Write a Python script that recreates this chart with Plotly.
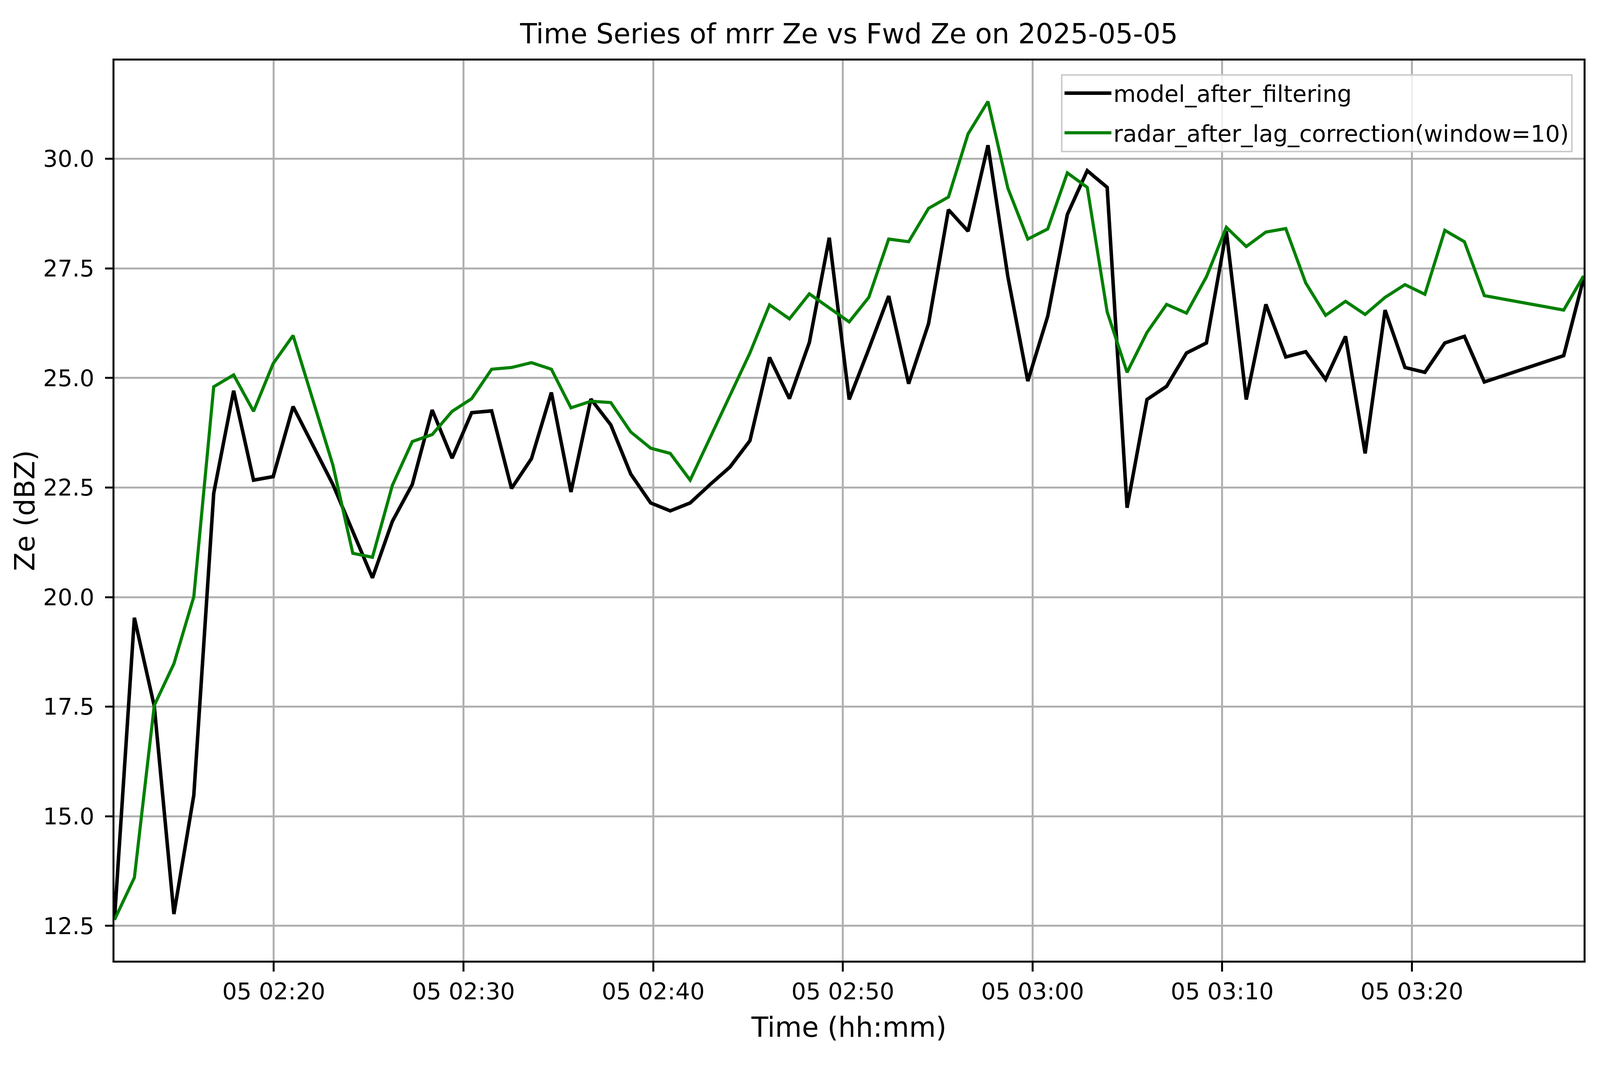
"""Time series of mrr Ze against forward-model Ze for 2025-05-05."""

# imports
from plotly.graph_objects import Figure, Scatter

DAY = "2025-05-05"

# sample times (hh:mm:ss), gaps are simply missing samples
times = [
    "02:11:36", "02:12:39", "02:13:42", "02:14:44", "02:15:47", "02:16:50", "02:17:53", "02:18:56",
    "02:19:58", "02:21:01",
    "02:23:07", "02:24:10", "02:25:12", "02:26:15", "02:27:18", "02:28:21", "02:29:24", "02:30:26",
    "02:31:29",
    "02:32:32", "02:33:35", "02:34:38", "02:35:40", "02:36:43", "02:37:46", "02:38:49", "02:39:52",
    "02:40:54", "02:41:57",
    "02:43:00", "02:44:03", "02:45:06", "02:46:08", "02:47:11", "02:48:14", "02:49:17", "02:50:20",
    "02:51:22", "02:52:25",
    "02:53:28", "02:54:31", "02:55:34", "02:56:36", "02:57:39", "02:58:42", "02:59:45", "03:00:48",
    "03:01:50", "03:02:53",
    "03:03:56", "03:04:59", "03:06:02", "03:07:04", "03:08:07", "03:09:10", "03:10:13", "03:11:16",
    "03:12:18", "03:13:21",
    "03:14:24", "03:15:27", "03:16:30", "03:17:32", "03:18:35", "03:19:38", "03:20:41", "03:21:44",
    "03:22:46", "03:23:49",
    "03:28:00", "03:29:03",
]

# Ze (dBZ)
model_after_filtering = [
    12.64, 19.53, 17.51, 12.77, 15.48, 22.37, 24.71, 22.67, 22.75, 24.35,
    22.57, 21.50, 20.44, 21.73, 22.57, 24.27, 23.17, 24.21, 24.25,
    22.48, 23.16, 24.67, 22.40, 24.52, 23.93, 22.81, 22.15, 21.97, 22.15,
    22.57, 22.97, 23.57, 25.47, 24.53, 25.81, 28.20, 24.51, 25.66, 26.87,
    24.87, 26.24, 28.84, 28.35, 30.31, 27.31, 24.93, 26.41, 28.73, 29.73,
    29.35, 22.04, 24.51, 24.81, 25.57, 25.80, 28.35, 24.51, 26.68, 25.48,
    25.60, 24.97, 25.95, 23.28, 26.55, 25.24, 25.13, 25.80, 25.95, 24.91,
    25.51, 27.27,
]

radar_after_lag_correction = [
    12.64, 13.60, 17.53, 18.48, 20.01, 24.80, 25.07, 24.24, 25.33, 25.97,
    23.01, 21.00, 20.91, 22.55, 23.55, 23.71, 24.24, 24.53, 25.20,
    25.24, 25.35, 25.20, 24.32, 24.47, 24.44, 23.77, 23.40, 23.28, 22.67,
    23.64, 24.61, 25.57, 26.67, 26.35, 26.92, 26.60, 26.28, 26.84, 28.17,
    28.11, 28.87, 29.13, 30.57, 31.31, 29.33, 28.17, 28.40, 29.68, 29.35,
    26.51, 25.13, 26.04, 26.68, 26.48, 27.31, 28.44, 28.00, 28.33, 28.41,
    27.17, 26.43, 26.75, 26.45, 26.84, 27.13, 26.91, 28.37, 28.11, 26.88,
    26.55, 27.33,
]

FONT = "DejaVu Sans"
# the page is 4096 css px wide and 2740 tall: squeeze the horizontal sizes only
W, H = 4096, 2740
SX = W / 5062
SF = 0.88   # font sizes, a compromise between both directions


def ze_plot(x, model, radar):
    """Trace les deux séries de Ze."""
    fig = Figure()
    fig.add_trace(Scatter(x=x, y=model, mode="lines", name="model_after_filtering",
                          legendgroup="m", line=dict(color="black", width=9)))
    fig.add_trace(Scatter(x=x, y=radar, mode="lines", name="radar_after_lag_correction(window=10)",
                          legendgroup="r", line=dict(color="#008000", width=8)))

    # matplotlib-like 5 % margin on y
    lo = min(min(model), min(radar))
    hi = max(max(model), max(radar))
    pad = 0.05 * (hi - lo)

    axis_style = dict(showline=True, linecolor="black", linewidth=4.5, mirror=True,
                      ticks="outside", tickwidth=4.5, tickcolor="black",
                      showgrid=True, gridcolor="#b0b0b0", gridwidth=4.5,
                      tickfont=dict(family=FONT, size=67 * SF, color="black"),
                      zeroline=False)
    title_font = dict(family=FONT, size=80 * SF, color="black")

    fig.update_layout(
        width=W, height=H,
        paper_bgcolor="white", plot_bgcolor="white",
        margin=dict(l=362 * SX, r=52 * SX, t=155, b=280, pad=0),
        font=dict(family=FONT, color="black"),
        title=dict(text="Time Series of mrr Ze vs Fwd Ze on " + DAY, font=title_font,
                   x=0.5, xref="paper", xanchor="center",
                   y=1 - 86 / H, yref="container", yanchor="middle"),
        xaxis=dict(axis_style, type="date", range=[x[0], x[-1]], ticklen=23,
                   ticklabelstandoff=0,
                   tick0=DAY + " 02:20:00", dtick=600000, tickformat="%d %H:%M",
                   title=dict(text="Time (hh:mm)", standoff=36, font=title_font)),
        yaxis=dict(axis_style, range=[lo - pad, hi + pad], dtick=2.5, tick0=0,
                   ticklen=round(23 * SX), ticklabelstandoff=round(20 * SX),
                   tickformat=".1f",
                   title=dict(text="Ze (dBZ)", standoff=0, font=title_font)),
        legend=dict(x=0.9926, xanchor="right", y=0.985, yanchor="top",
                    bgcolor="rgba(255,255,255,0.8)", bordercolor="#cccccc", borderwidth=4,
                    itemwidth=120, tracegroupgap=22,
                    font=dict(family=FONT, size=67 * SF, color="black")),
    )
    return fig


def main():
    """Construit la figure et l'écrit dans out.html."""
    x = [DAY + " " + t for t in times]
    fig = ze_plot(x, model_after_filtering, radar_after_lag_correction)
    fig.write_html("out.html", config={"displayModeBar": False},
                   post_script="document.body.style.margin='0';")


if __name__ == "__main__":
    main()
